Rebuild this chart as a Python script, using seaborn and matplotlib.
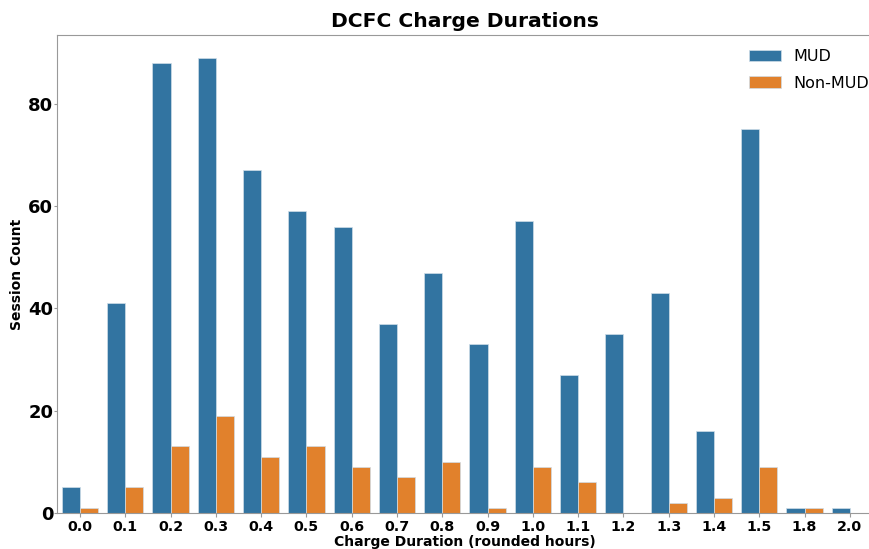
import pandas as pd
import matplotlib
matplotlib.use("Agg")
import matplotlib.pyplot as plt
import seaborn as sns

# charge duration bins (rounded hours)
durations = ["0.0", "0.1", "0.2", "0.3", "0.4", "0.5", "0.6", "0.7", "0.8",
             "0.9", "1.0", "1.1", "1.2", "1.3", "1.4", "1.5", "1.8", "2.0"]
mud_counts = [5, 41, 88, 89, 67, 59, 56, 37, 47, 33, 57, 27, 35, 43, 16, 75, 1, 1]
non_mud_counts = [1, 5, 13, 19, 11, 13, 9, 7, 10, 1, 9, 6, 0, 2, 3, 9, 1, 0]
groups = ["MUD", "Non-MUD"]

df = pd.DataFrame({
    "duration": durations * 2,
    "count": mud_counts + non_mud_counts,
    "group": [groups[0]] * len(durations) + [groups[1]] * len(durations),
})

fig = plt.figure(figsize=(8.69, 5.49), dpi=100)
# axes runs a little past the right edge of the figure, like the original
ax = fig.add_axes([0.066, 0.0656, 0.938, 0.8707])

sns.barplot(data=df, x="duration", y="count", hue="group", order=durations,
            hue_order=groups, palette=["#3274a1", "#e1812c"], saturation=1,
            edgecolor="#cfdde8", linewidth=0.5, ax=ax)

ax.set_title("DCFC Charge Durations", fontsize=14.6, fontweight="bold")
ax.set_xlabel("Charge Duration (rounded hours)", fontsize=10, fontweight="bold", labelpad=1)
ax.set_ylabel("Session Count", fontsize=10, fontweight="bold", labelpad=3)
ax.set_yticks([0, 20, 40, 60, 80])
for lab in ax.get_yticklabels():
    lab.set_fontsize(13)
    lab.set_fontweight("bold")
for lab in ax.get_xticklabels():
    lab.set_fontsize(10.3)
    lab.set_fontweight("bold")

for s in ax.spines.values():
    s.set_color("#999999")
ax.spines["right"].set_visible(False)
ax.tick_params(colors="#999999", labelcolor="black", length=3, pad=2)
ax.tick_params(axis="y", length=2, pad=1)

leg = ax.legend(frameon=False, fontsize=11.5, loc="upper right",
                bbox_to_anchor=(1.014, 1.0), labelspacing=0.7)

fig.savefig("out.png", dpi=100)
